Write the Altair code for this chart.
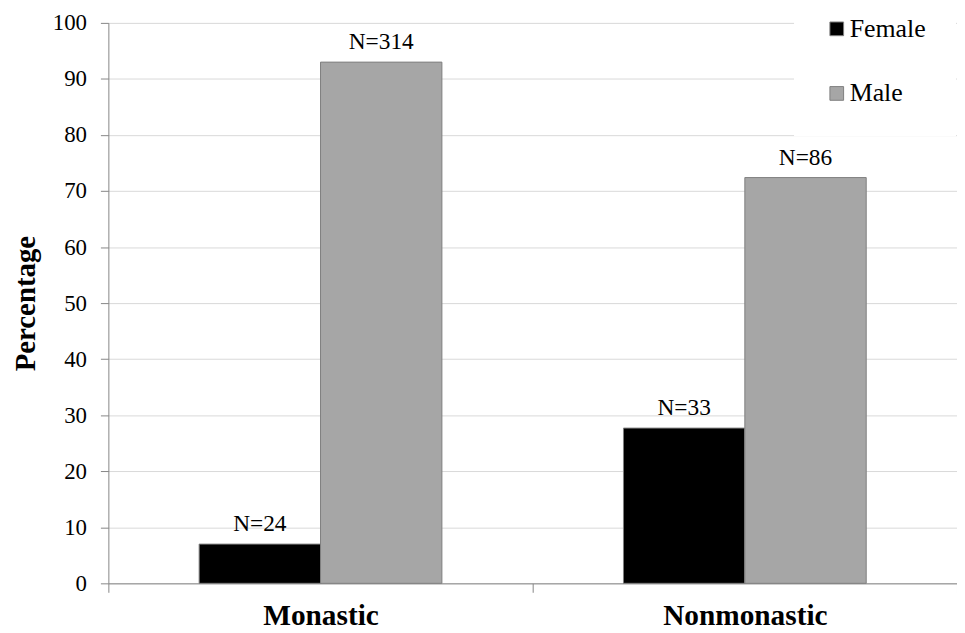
import altair as alt
import pandas as pd

groups = ["Monastic", "Monastic", "Nonmonastic", "Nonmonastic"]
sexes = ["Female", "Male", "Female", "Male"]
percentages = [7.0, 93.0, 27.7, 72.4]
labels = ["N=24", "N=314", "N=33", "N=86"]

df = pd.DataFrame({"group": groups, "sex": sexes, "pct": percentages, "label": labels})

FONT = "Liberation Serif"
AXIS_GRAY = "#868686"

x = alt.X(
    "group:N",
    title=None,
    scale=alt.Scale(paddingInner=0, paddingOuter=0),
    axis=alt.Axis(
        labelAngle=0, labelFontSize=29.5, labelFontWeight="bold", labelFont=FONT,
        labelColor="black", tickBand="extent", tickSize=9, tickColor=AXIS_GRAY,
        domainColor=AXIS_GRAY, labelPadding=9, grid=False,
    ),
)
xo = alt.XOffset("sex:N", scale=alt.Scale(domain=["Female", "Male"], paddingOuter=0.748, paddingInner=0))
y = alt.Y(
    "pct:Q",
    scale=alt.Scale(domain=[0, 100], nice=False),
    axis=alt.Axis(
        values=list(range(0, 101, 10)), title="Percentage", titleFont=FONT,
        titleFontSize=29, titleFontWeight="bold", titleColor="black", titlePadding=12,
        labelFont=FONT, labelFontSize=23, labelColor="black", labelPadding=14,
        tickSize=8, tickColor=AXIS_GRAY, domainColor=AXIS_GRAY,
        gridColor="#d9d9d9", grid=True,
    ),
)
color = alt.Color(
    "sex:N",
    scale=alt.Scale(domain=["Female", "Male"], range=["#000000", "#a6a6a6"]),
    legend=alt.Legend(
        title=None, orient="none", legendX=690, legendY=-37,
        labelFont=FONT, labelFontSize=26, labelColor="black",
        symbolType="square", symbolSize=190, symbolStrokeColor="#7f7f7f",
        symbolStrokeWidth=1, rowPadding=39, labelOffset=0,
        fillColor="white", padding=30,
    ),
)

bars = alt.Chart(df).mark_bar(stroke="#7f7f7f", strokeWidth=1).encode(
    x=x, xOffset=xo, y=y, color=color
)
text = alt.Chart(df).mark_text(
    baseline="bottom", dy=-8, fontSize=23.5, font=FONT, color="black"
).encode(x=x, xOffset=xo, y=y, text="label:N")

chart = (
    alt.layer(bars, text)
    .properties(
        width=854, height=564,
        autosize=alt.AutoSizeParams(type="none"),
        padding={"left": 101, "top": 13, "right": 0, "bottom": 48},
        background="white",
    )
    .configure_view(stroke=None)
)

chart.save("out.html", embed_options={"renderer": "svg", "actions": False})
